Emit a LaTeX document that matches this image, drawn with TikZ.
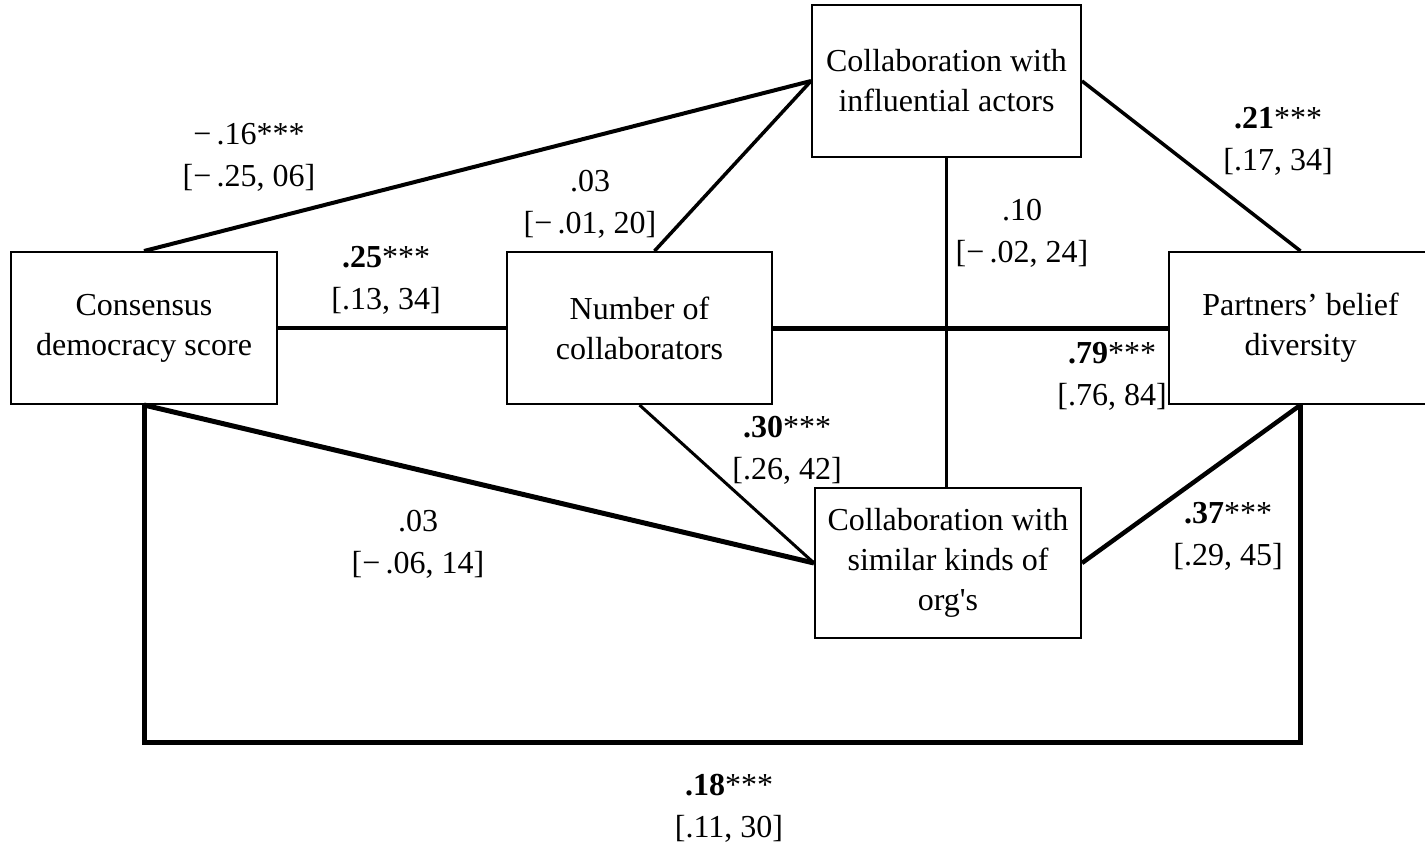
\documentclass[tikz,border=0pt]{standalone}
\usepackage{fontspec}
\setmainfont{Liberation Serif}
% same face without the TeX quote mapping, for a straight apostrophe
\newfontfamily\plainserif{Liberation Serif}
\begin{document}
\begin{tikzpicture}[x=1pt,y=-1pt,
  box/.style={draw, line width=2pt, minimum height=152pt, inner sep=0pt,
    align=center, font=\fontsize{32}{40}\selectfont},
  lab/.style={align=center, inner sep=0pt, font=\fontsize{32}{42}\selectfont},
  path/.style={line width=4pt}]
\useasboundingbox (0,0) rectangle (1425,847);
\fill[white] (0,0) rectangle (1425,847);

% variables
\node[box, minimum width=269pt] (infl) at (946.5,81) {Collaboration with\\influential actors};
\node[box, minimum width=266pt] (cons) at (144,328) {Consensus\\democracy score};
\node[box, minimum width=265pt] (num)  at (639.5,328) {Number of\\collaborators};
\node[box, minimum width=263pt] (part) at (1300.5,328) {Partners’ belief\\diversity};
\node[box, minimum width=266pt, minimum height=150pt] (sim) at (948,563) {Collaboration with\\similar kinds of\\org{\plainserif'}s};

\coordinate (bl) at (144,742);
\coordinate (br) at (1300.5,742);

% paths
\draw[path] (cons.north) -- (infl.west);
\draw[path, line width=4.5pt] (cons.east) -- (num.west);
\draw[path, line width=3.5pt] ([xshift=15pt]num.north) -- (infl.west);
\draw[path, line width=5pt] (num.east) -- (part.west);
\draw[path, line width=3pt] (infl.south) -- (infl.south |- sim.north);
\draw[path, line width=3.5pt] (infl.east) -- (part.north);
\draw[path, line width=3pt] (num.south) -- (sim.west);
\draw[path, line width=5pt] (cons.south) -- (sim.west);
\draw[path, line width=4.5pt] (sim.east) -- (part.south);
\draw[path, line width=5pt] (cons.south) -- (bl) -- (br) -- (part.south);

% coefficients
\node[lab] (l1)  at (249,157)  {−\,.16***\\{}[−\,.25, 06]};
\node[lab] (l2)  at (386,280)  {\textbf{.25}***\\{}[.13, 34]};
\node[lab] (l3)  at (590,204)  {.03\\{}[−\,.01, 20]};
\node[lab] (l4)  at (1022,233) {.10\\{}[−\,.02, 24]};
\node[lab] (l5)  at (1278,141) {\textbf{.21}***\\{}[.17, 34]};
\node[lab] (l6)  at (1112,376) {\textbf{.79}***\\{}[.76, 84]};
\node[lab] (l7)  at (787,450)  {\textbf{.30}***\\{}[.26, 42]};
\node[lab] (l8)  at (418,544)  {.03\\{}[−\,.06, 14]};
\node[lab] (l9)  at (1228,536) {\textbf{.37}***\\{}[.29, 45]};
\node[lab] (l10) at (729,808)  {\textbf{.18}***\\{}[.11, 30]};
\end{tikzpicture}
\end{document}
